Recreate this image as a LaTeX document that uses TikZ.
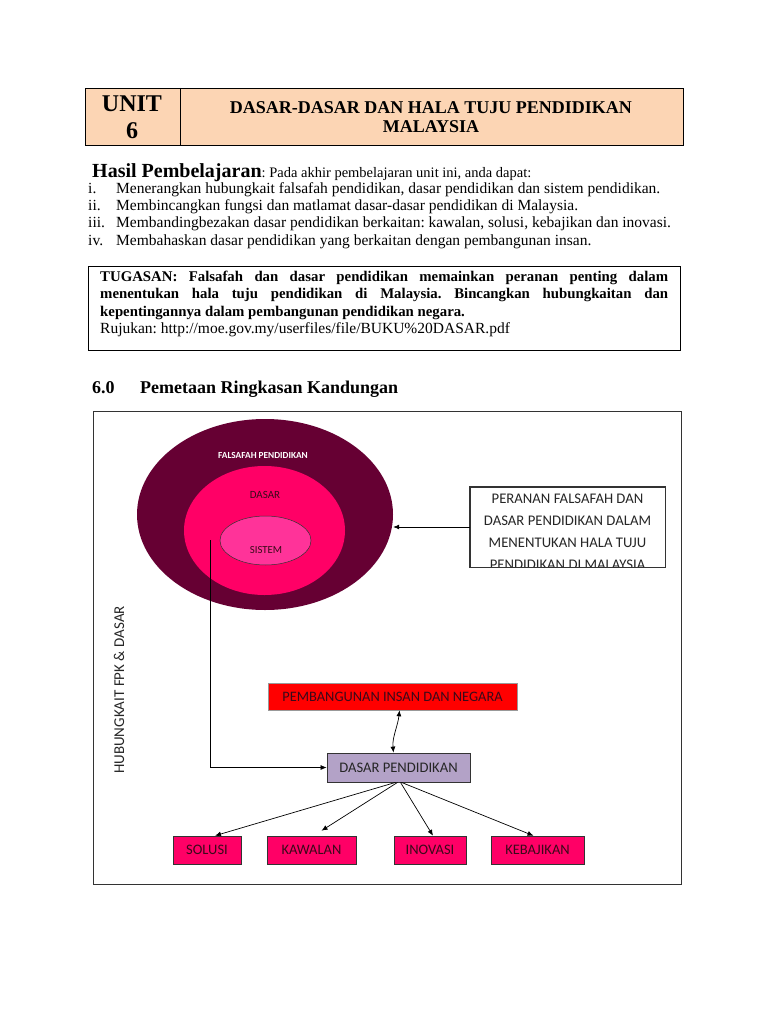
\documentclass[tikz,border=0pt]{standalone}
\usepackage{fontspec}
\setmainfont{Liberation Serif}
\newfontfamily\calfont{Carlito}
\usetikzlibrary{arrows.meta,shapes.geometric}
\frenchspacing
\definecolor{peach}{HTML}{FCD5B4}
\definecolor{maroon}{HTML}{660033}
\definecolor{pinkmid}{HTML}{FF0066}
\definecolor{pinkin}{HTML}{FF3399}
\definecolor{lav}{HTML}{B3A2C7}
\definecolor{txtdark}{HTML}{3A0A1A}
\tikzset{
  body/.style={anchor=base west, inner sep=0, font=\fontsize{15.5}{17}\selectfont},
  pbox/.style={draw=black!80, line width=0.6pt, fill=pinkmid, minimum height=28, inner sep=0,
     font=\calfont\fontsize{14.5}{14.5}\selectfont, text=txtdark},
  arr/.style={-{Latex[length=6pt,width=5pt]}, line width=0.7pt, black},
  pline/.style={anchor=base, inner sep=0, font=\calfont\fontsize{14.7}{14.7}\selectfont, text=black!85},
}
\begin{document}
\begin{tikzpicture}[x=1pt,y=-1pt]
\useasboundingbox (0,0) rectangle (768,1024);
\fill[white] (0,0) rectangle (768,1024);
% header
\node (hdr) [draw, line width=1pt, fill=peach, anchor=north west, minimum width=598, minimum height=57, inner sep=0] at (85,88) {};
\draw[line width=0.8pt] (180,88) -- (180,145);
\node (unit) [align=center, font=\bfseries\fontsize{24}{27}\selectfont] at (132,117) {UNIT\\6};
\node (title) [align=center, font=\bfseries\fontsize{18}{19}\selectfont] at (431,117) {DASAR-DASAR DAN HALA TUJU PENDIDIKAN\\MALAYSIA};
% learning outcomes
\node (hp) [anchor=base west, inner sep=0] at (92,178) {{\bfseries\fontsize{20}{20}\selectfont Hasil Pembelajaran}{\fontsize{14.5}{17}\selectfont: Pada akhir pembelajaran unit ini, anda dapat:}};
\node (n1) [body] at (88,194) {i.};
\node (t1) [body] at (116,194) {Menerangkan hubungkait falsafah pendidikan, dasar pendidikan dan sistem pendidikan.};
\node (n2) [body] at (88,211) {ii.};
\node (t2) [body] at (116,211) {Membincangkan fungsi dan matlamat dasar-dasar pendidikan di Malaysia.};
\node (n3) [body] at (88,228) {iii.};
\node (t3) [body] at (116,228) {Membandingbezakan dasar pendidikan berkaitan: kawalan, solusi, kebajikan dan inovasi.};
\node (n4) [body] at (88,245) {iv.};
\node (t4) [body] at (116,245) {Membahaskan dasar pendidikan yang berkaitan dengan pembangunan insan.};
% tugasan
\node (tbox) [draw, line width=0.8pt, anchor=north west, minimum width=592, minimum height=84, inner sep=0] at (88,266) {};
\node (ttext) [anchor=north west, inner sep=0, text width=568, align=justify, font=\fontsize{14.8}{17.3}\selectfont] at (100,271)
 {\textbf{TUGASAN: Falsafah dan dasar pendidikan memainkan peranan penting dalam\linebreak menentukan hala tuju pendidikan di Malaysia. Bincangkan hubungkaitan dan\linebreak kepentingannya dalam pembangunan pendidikan negara.}\newline {\fontsize{15.5}{17.3}\selectfont Rujukan: http://moe.gov.my/userfiles/file/BUKU\%20DASAR.pdf}};
% section heading
\node (secn) [anchor=base west, inner sep=0, font=\bfseries\fontsize{18}{18}\selectfont] at (92,393) {6.0};
\node (sect) [anchor=base west, inner sep=0, font=\bfseries\fontsize{18}{18}\selectfont] at (140,393) {Pemetaan Ringkasan Kandungan};
% diagram frame
\node (frame) [draw=black!80, line width=0.8pt, anchor=north west, minimum width=588, minimum height=473, inner sep=0] at (93,411) {};
% ellipses
\node (fpk) [ellipse, fill=maroon, minimum width=256, minimum height=191, inner sep=0] at (265,514.5) {};
\node (dasar) [ellipse, fill=pinkmid, minimum width=161, minimum height=129, inner sep=0] at (264.5,530.5) {};
\node (sistem) [ellipse, draw=black!80, line width=0.5pt, fill=pinkin, minimum width=91, minimum height=49, inner sep=0] at (265.5,540.5) {};
\node (fpkl) [text=white, font=\calfont\bfseries\fontsize{9.3}{9.3}\selectfont] at (263,455) {FALSAFAH PENDIDIKAN};
\node (dasl) [text=txtdark, font=\calfont\fontsize{11}{11}\selectfont] at (265,495) {DASAR};
\node (sisl) [text=txtdark, font=\calfont\fontsize{10.8}{10.8}\selectfont] at (266,550) {SISTEM};
% right box
\node (peranan) [draw=black!80, line width=0.8pt, minimum width=195, minimum height=80, inner sep=0] at (567.5,527) {};
\begin{scope}
\clip (470,487) rectangle (665,566.5);
\node (p1) [pline] at (567.5,503) {PERANAN FALSAFAH DAN};
\node (p2) [pline] at (567.5,525) {DASAR PENDIDIKAN DALAM};
\node (p3) [pline] at (567.5,547) {MENENTUKAN HALA TUJU};
\node (p4) [pline] at (567.5,569) {PENDIDIKAN DI MALAYSIA};
\end{scope}
\draw[draw=black!80, line width=0.8pt] (peranan.south west) rectangle (peranan.north east);
\draw[arr] (peranan.west) -- (peranan.west -| fpk.east);
% side label
\node (hub) [rotate=90, font=\calfont\fontsize{15}{15}\selectfont, text=black!85] at (119,690) {HUBUNGKAIT FPK \& DASAR};
% boxes
\node (pemb) [draw=black!40, line width=0.5pt, fill=red, minimum width=249, minimum height=27, inner sep=0,
  font=\calfont\fontsize{14.4}{14.4}\selectfont, text=txtdark] at (392.5,696.5) {PEMBANGUNAN INSAN DAN NEGARA};
\node (dp) [draw=black!80, line width=0.8pt, fill=lav, minimum width=143, minimum height=29, inner sep=0,
  font=\calfont\fontsize{14.6}{14.6}\selectfont, text=black!85] at (398.5,767.5) {DASAR PENDIDIKAN};
\coordinate (s) at (210,540);
\draw[arr] (s) |- (dp.west);
\draw[{Latex[length=6pt,width=5pt]}-{Latex[length=6pt,width=5pt]}, line width=0.7pt]
  ([xshift=7pt]pemb.south) .. controls (398,725) and (392,738) .. ([xshift=-5pt]dp.north);
\node (sol) [pbox, minimum width=68] at (207,850) {SOLUSI};
\node (kaw) [pbox, minimum width=89] at (311.5,850) {KAWALAN};
\node (ino) [pbox, minimum width=72] at (430,850) {INOVASI};
\node (keb) [pbox, minimum width=93] at (537.5,850) {KEBAJIKAN};
\draw[arr] ([xshift=-3pt]dp.south) -- ([xshift=8pt]sol.north);
\draw[arr] ([xshift=-1pt]dp.south) -- ([xshift=10pt,yshift=5pt]kaw.north);
\draw[arr] ([xshift=2pt]dp.south) -- ([xshift=3pt]ino.north);
\draw[arr] ([xshift=3pt]dp.south) -- ([xshift=-4pt]keb.north);
\end{tikzpicture}
\end{document}
